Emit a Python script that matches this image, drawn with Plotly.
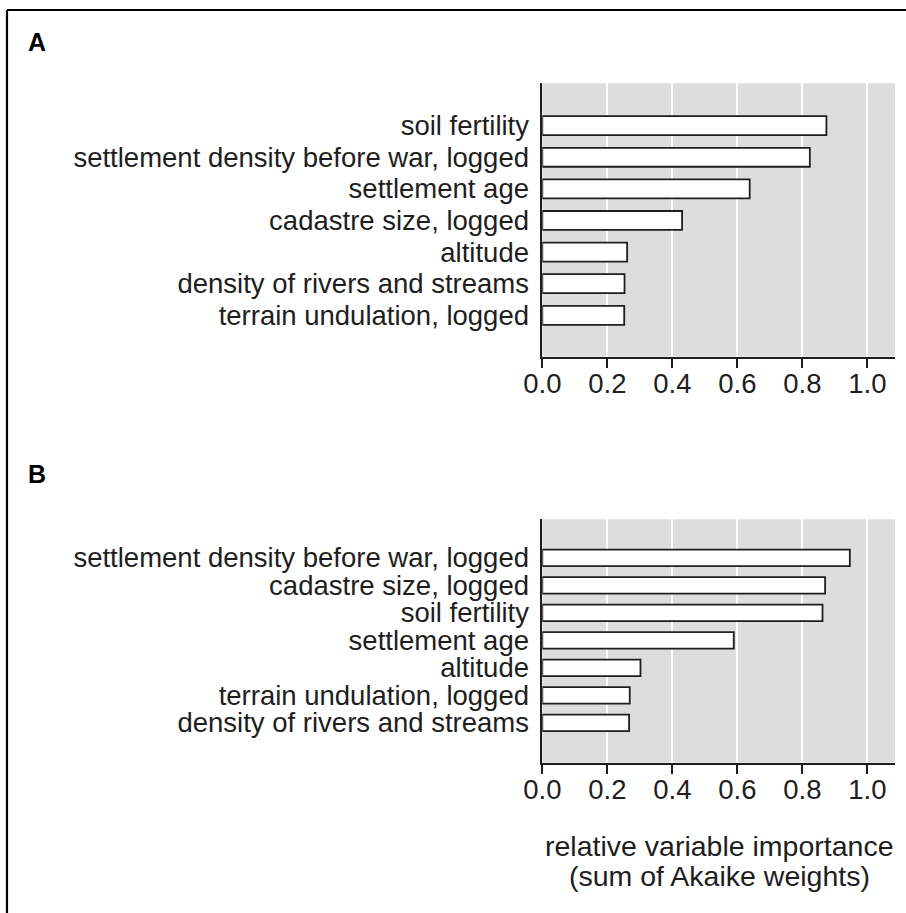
import plotly.graph_objects as go

# Panel A: predictors and their relative importance (top to bottom)
labels_a = [
    "soil fertility",
    "settlement density before war, logged",
    "settlement age",
    "cadastre size, logged",
    "altitude",
    "density of rivers and streams",
    "terrain undulation, logged",
]
values_a = [0.874, 0.823, 0.638, 0.430, 0.261, 0.253, 0.252]

# Panel B
labels_b = [
    "settlement density before war, logged",
    "cadastre size, logged",
    "soil fertility",
    "settlement age",
    "altitude",
    "terrain undulation, logged",
    "density of rivers and streams",
]
values_b = [0.946, 0.870, 0.862, 0.589, 0.302, 0.269, 0.267]

x_ticks = [0.0, 0.2, 0.4, 0.6, 0.8, 1.0]
x_tick_text = ["0.0", "0.2", "0.4", "0.6", "0.8", "1.0"]
axis_title_lines = ["relative variable importance", "(sum of Akaike weights)"]

W, H = 906, 913
FONT = "Liberation Sans, Arial, Helvetica, sans-serif"
INK = "#1e1e1e"
PANEL_BG = "#dddddd"


def px_x(v):
    return v / W


def px_y(v):
    return 1 - v / H


fig = go.Figure()

bar_style = dict(
    orientation="h",
    width=0.6,
    marker=dict(color="white", line=dict(color=INK, width=1.8)),
    hoverinfo="x+y",
    showlegend=False,
)
fig.add_trace(go.Bar(x=values_a, y=labels_a, xaxis="x", yaxis="y", **bar_style))
fig.add_trace(go.Bar(x=values_b, y=labels_b, xaxis="x2", yaxis="y2", **bar_style))

x_left, x_right = 542.3, 895.0
x_max = 1.085

xaxis_common = dict(
    range=[0, x_max],
    tickmode="array",
    tickvals=x_ticks,
    ticktext=x_tick_text,
    showgrid=True,
    gridcolor="white",
    gridwidth=1.6,
    zeroline=False,
    showline=True,
    linecolor=INK,
    linewidth=1.6,
    ticks="outside",
    ticklen=9,
    tickwidth=1.6,
    tickcolor=INK,
    ticklabelstandoff=-8,
    tickfont=dict(family=FONT, size=27.5, color=INK),
    automargin=False,
    fixedrange=True,
)
yaxis_common = dict(
    type="category",
    tickmode="array",
    showgrid=False,
    zeroline=False,
    showline=True,
    linecolor=INK,
    linewidth=1.6,
    ticks="",
    ticklabelstandoff=6,
    tickfont=dict(family=FONT, size=27.5, color=INK),
    automargin=False,
    fixedrange=True,
)

fig.update_layout(
    width=W,
    height=H,
    margin=dict(l=0, r=0, t=0, b=0, autoexpand=False),
    paper_bgcolor="white",
    plot_bgcolor=PANEL_BG,
    bargap=0.4,
    xaxis=dict(domain=[px_x(x_left), px_x(x_right)], anchor="y", **xaxis_common),
    yaxis=dict(
        domain=[px_y(356.7), px_y(83.3)],
        anchor="x",
        categoryorder="array",
        categoryarray=labels_a,
        tickvals=labels_a,
        ticktext=labels_a,
        range=[6 + 1.31, -1.34],
        **yaxis_common,
    ),
    xaxis2=dict(domain=[px_x(x_left), px_x(x_right)], anchor="y2", **xaxis_common),
    yaxis2=dict(
        domain=[px_y(762.7), px_y(519.3)],
        anchor="x2",
        categoryorder="array",
        categoryarray=labels_b,
        tickvals=labels_b,
        ticktext=labels_b,
        range=[6 + 1.45, -1.40],
        **yaxis_common,
    ),
)

# Panel letters
for letter, yc in (("A", 42), ("B", 474)):
    fig.add_annotation(
        x=px_x(26), y=px_y(yc), xref="paper", yref="paper",
        xanchor="left", yanchor="middle", showarrow=False,
        text=f"<b>{letter}</b>",
        font=dict(family=FONT, size=25, color="black"),
    )

# Axis title under the lower panel (two lines)
for line, yc in zip(axis_title_lines, (846, 876)):
    fig.add_annotation(
        x=px_x(719), y=px_y(yc), xref="paper", yref="paper",
        xanchor="center", yanchor="middle", showarrow=False,
        text=line,
        font=dict(family=FONT, size=28.5, color=INK),
    )

# Frame lines along the top and left edges
fig.add_shape(type="line", xref="paper", yref="paper",
              x0=px_x(7), x1=1, y0=px_y(10), y1=px_y(10),
              line=dict(color="black", width=2.2))
fig.add_shape(type="line", xref="paper", yref="paper",
              x0=px_x(7), x1=px_x(7), y0=px_y(10), y1=0,
              line=dict(color="black", width=2.2))

fig.write_html("out.html")
